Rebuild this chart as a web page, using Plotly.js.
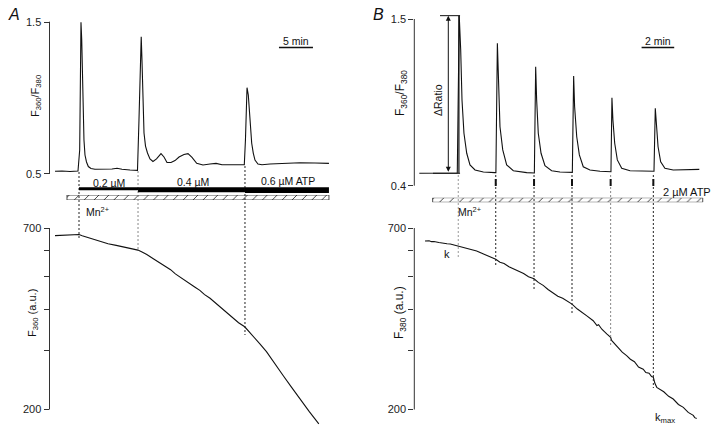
<!DOCTYPE html>
<html><head><meta charset="utf-8">
<script src="https://cdn.plot.ly/plotly-3.0.1.min.js"></script>
<style>html,body{margin:0;padding:0;background:#fff}#chart{width:720px;height:439px}</style>
</head><body><div id="chart"></div>
<script>
// ---------------- DATA ----------------
// Panel A, top: F360/F380 ratio vs time (min)
const timeA = [0, 1.03, 2.21, 3.38, 3.63, 3.75, 3.82, 3.93, 4.04, 4.16, 4.26, 4.41, 4.63, 4.90, 5.29, 5.88, 7.35, 8.38, 9.12, 9.85, 11.03, 12.13, 12.35, 12.54, 12.68, 12.79, 12.91, 13.09, 13.31, 13.60, 13.97, 14.41, 14.93, 15.59, 16.03, 16.47, 17.06, 17.65, 18.24, 18.97, 19.56, 20.15, 20.84, 21.76, 22.79, 23.68, 24.56, 26.18, 27.84, 28.01, 28.13, 28.24, 28.43, 28.57, 28.72, 28.93, 29.16, 29.41, 29.85, 30.44, 31.62, 33.57, 36.03, 38.24, 40.29];
const ratioA = [0.518, 0.520, 0.516, 0.520, 0.658, 1.250, 1.498, 1.382, 1.118, 0.855, 0.724, 0.625, 0.579, 0.549, 0.536, 0.531, 0.530, 0.533, 0.538, 0.531, 0.526, 0.524, 0.855, 1.303, 1.403, 1.250, 0.987, 0.770, 0.684, 0.638, 0.599, 0.582, 0.599, 0.634, 0.612, 0.576, 0.576, 0.588, 0.612, 0.628, 0.634, 0.609, 0.570, 0.559, 0.566, 0.570, 0.561, 0.561, 0.561, 0.724, 0.954, 1.068, 1.020, 0.921, 0.789, 0.702, 0.638, 0.592, 0.566, 0.561, 0.566, 0.570, 0.574, 0.572, 0.570];
// Panel A, bottom: F360 (a.u.)
const timeFA = [0, 1, 1.8, 2.7, 3.53, 4.0, 4.6, 5.5, 6.6, 7.8, 9.0, 10, 11.0, 11.6, 12.2, 12.8, 13.5, 14.4, 15.4, 16.2, 17.0, 17.7, 18.4, 19.2, 20.0, 20.6, 21.3, 22.0, 22.8, 23.5, 24.3, 25.2, 26.2, 27.0, 27.9, 28.5, 29.2, 30.1, 31.1, 32.3, 33.6, 34.8, 36.0, 37.4, 38.8];
const f360 = [664, 665, 666, 667, 669, 664, 658, 647, 637, 628, 621, 615, 610, 606, 601, 593, 583, 567, 551, 538, 525, 510, 498, 485, 474, 465, 455, 442, 431, 419, 406, 391, 376, 364, 354, 343, 332, 315, 298, 276, 252, 233, 215, 197, 181];
// Panel A: ATP applications (start times, min) and Mn2+ period
const atpA = [3.53, 12.21, 27.94];
const atpAEnd = 40.29;
const atpALabels = ['0.2 µM', '0.4 µM', '0.6 µM ATP'];
const mnA = [1.76, 40.29];
const scaleA = 5; // min

// Panel B, top: F360/F380 ratio vs time (min)
const timeB = [0, 1.27, 2.33, 2.45, 2.54, 2.62, 2.74, 2.91, 3.11, 3.42, 3.93, 4.64, 4.70, 4.79, 4.85, 4.95, 5.12, 5.36, 5.77, 6.59, 7.06, 7.14, 7.20, 7.30, 7.47, 7.71, 8.12, 8.63, 9.39, 9.47, 9.53, 9.66, 9.82, 10.06, 10.47, 11.09, 11.76, 11.82, 11.88, 11.99, 12.15, 12.42, 12.93, 13.74, 14.40, 14.48, 14.54, 14.65, 14.81, 15.07, 15.58, 16.40, 17.18];
const ratioB = [0.482, 0.483, 0.484, 1.522, 1.296, 0.966, 0.746, 0.614, 0.537, 0.504, 0.490, 0.486, 0.486, 1.340, 1.076, 0.789, 0.636, 0.537, 0.499, 0.486, 0.484, 1.185, 0.966, 0.746, 0.614, 0.532, 0.499, 0.490, 0.488, 1.124, 0.921, 0.723, 0.603, 0.525, 0.504, 0.495, 0.492, 0.981, 0.834, 0.680, 0.570, 0.515, 0.499, 0.497, 0.495, 0.911, 0.789, 0.657, 0.558, 0.515, 0.504, 0.504, 0.508];
// Panel B, bottom: F380 (a.u.)
const timeFB = [0.35, 0.6, 0.75, 0.9, 1.2, 1.47, 1.7, 1.9, 2.15, 2.39, 2.65, 2.9, 3.2, 3.52, 3.8, 4.1, 4.4, 4.69, 4.95, 5.2, 5.5, 5.77, 6.1, 6.4, 6.7, 7.04, 7.3, 7.6, 7.9, 8.22, 8.5, 8.8, 9.1, 9.37, 9.7, 10.0, 10.3, 10.67, 10.9, 11.0, 11.2, 11.5, 11.74, 11.8, 12.0, 12.2, 12.45, 12.72, 12.95, 13.2, 13.45, 13.74, 13.9, 14.1, 14.25, 14.36, 14.45, 14.57, 14.8, 15.0, 15.3, 15.58, 15.9, 16.2, 16.5, 16.81, 16.9, 17.02];
const f380 = [640, 641, 637, 638, 633, 632, 628, 627, 622, 620, 613, 610, 603, 597, 589, 581, 571, 564, 553, 548, 536, 529, 518, 511, 500, 493, 481, 471, 458, 448, 437, 431, 421, 414, 400, 391, 381, 369, 357, 359, 348, 337, 329, 322, 314, 307, 297, 290, 283, 278, 268, 264, 258, 257, 251, 250, 240, 233, 229, 226, 219, 215, 207, 203, 196, 192, 189, 188];
// Panel B: ATP pulses (2 µM) and Mn2+ period
const atpB = [2.39, 4.69, 7.04, 9.37, 11.74, 14.36];
const atpBLabel = '2 µM ATP';
const mnB = [0.82, 17.39];
const scaleB = 2; // min

// Tick labels
const ratioTicksA = [0.5, 1.5];
const ratioTicksB = [0.4, 1.5];
const fluoTicks = [200, 300, 400, 500, 600, 700];
const fluoTickText = ['200', '', '', '', '', '700'];

// ---------------- LAYOUT HELPERS ----------------
const W = 720, H = 439;
const px = x => x / W;
const py = y => 1 - y / H;
const FONT = 'Liberation Sans, Arial, Helvetica, sans-serif';
const INK = '#111';
const AX = '#333';

const lineStyle = {color: INK, width: 1.1};
const traces = [
  {x: timeA, y: ratioA, xaxis: 'x', yaxis: 'y', mode: 'lines', line: lineStyle},
  {x: timeFA, y: f360, xaxis: 'x2', yaxis: 'y2', mode: 'lines', line: lineStyle},
  {x: timeB, y: ratioB, xaxis: 'x3', yaxis: 'y3', mode: 'lines', line: lineStyle},
  {x: timeFB, y: f380, xaxis: 'x4', yaxis: 'y4', mode: 'lines', line: lineStyle},
];
const hatch = {color: '#fff', line: {color: '#222', width: 0.8},
  pattern: {shape: '/', fgcolor: '#222', bgcolor: '#fff', size: 7, solidity: 0.12}};
traces.push({type: 'bar', orientation: 'h', y: [0], x: [mnA[1] - mnA[0]], base: [mnA[0]], width: [1],
  xaxis: 'x5', yaxis: 'y5', marker: hatch, cliponaxis: false});
traces.push({type: 'bar', orientation: 'h', y: [0], x: [mnB[1] - mnB[0]], base: [mnB[0]], width: [1],
  xaxis: 'x6', yaxis: 'y6', marker: hatch, cliponaxis: false});

// geometry (pixel mapping of time axes)
const domA = [px(49.5), px(335)], rangeA = [-0.81, 41.18];
const domB = [px(414.3), px(705)], rangeB = [-0.307, 17.53];
const hidX = (dom, rng, anchor) => ({domain: dom, range: rng, anchor: anchor, visible: false, fixedrange: true});
const yAx = (dom, rng, anchor, vals, text, type) => ({
  domain: dom, range: rng, anchor: anchor, type: type || 'linear',
  tickmode: 'array', tickvals: vals, ticktext: text,
  ticks: 'outside', ticklen: 5, tickwidth: 1, tickcolor: AX,
  showline: false, showgrid: false, zeroline: false, fixedrange: true,
  tickfont: {family: FONT, size: 11, color: '#222'}
});

const shapes = [];
const vline = (xref, x, y0, y1, color, w, dash) => shapes.push({type: 'line', xref: xref, yref: 'paper',
  x0: x, x1: x, y0: py(y0), y1: py(y1), line: {color: color, width: w, dash: dash || 'solid'}});
// axis lines
const axLine = (x, y0, y1) => shapes.push({type: 'line', xref: 'paper', yref: 'paper', x0: px(x), x1: px(x),
  y0: py(y0), y1: py(y1), line: {color: AX, width: 1}});
axLine(49.5, 21.7, 174); axLine(49.5, 228, 409.5);
axLine(414.3, 19, 185.7); axLine(414.3, 228, 409.5);

// dashed lines A
const dashA = [[172, 238, '#222'], [171, 250, '#888'], [166, 335, '#222']];
atpA.forEach((t, i) => vline('x', t, dashA[i][0], dashA[i][1], dashA[i][2], 1, '2px,2px'));
// dashed lines B
const dashB = [[175, 258, '#999'], [175, 266, '#222'], [175, 290, '#222'], [175, 313, '#222'], [175, 347, '#888'], [175, 388, '#222']];
atpB.forEach((t, i) => vline('x3', t, dashB[i][0], dashB[i][1], dashB[i][2], 1, '2px,2px'));
atpB.slice(1).forEach(t => vline('x3', t, 179, 186, '#111', 2));

// ATP concentration bars (A)
const barBottoms = [190.3, 192.3, 193];
atpA.forEach((t, i) => shapes.push({type: 'rect', xref: 'x', yref: 'paper',
  x0: t, x1: (i < atpA.length - 1 ? atpA[i + 1] : atpAEnd), y0: py(barBottoms[i]), y1: py(187.3),
  fillcolor: '#000', line: {width: 0}}));

// scale bars
const sbA0 = 32.94, sbB0 = 13.64;
shapes.push({type: 'line', xref: 'x', yref: 'paper', x0: sbA0, x1: sbA0 + scaleA, y0: py(47.5), y1: py(47.5), line: {color: INK, width: 1.5}});
shapes.push({type: 'line', xref: 'x3', yref: 'paper', x0: sbB0, x1: sbB0 + scaleB, y0: py(47.5), y1: py(47.5), line: {color: INK, width: 1.5}});

// Delta-ratio bracket (B)
const peakB = Math.max(...ratioB), baseB = ratioB[0];
shapes.push({type: 'line', xref: 'x3', yref: 'y3', x0: 1.27, x1: 2.50, y0: peakB, y1: peakB, line: {color: INK, width: 1}});
shapes.push({type: 'line', xref: 'x3', yref: 'y3', x0: 0.84, x1: 2.50, y0: baseB, y1: baseB, line: {color: INK, width: 1}});
shapes.push({type: 'line', xref: 'x3', yref: 'y3', x0: 2.43, x1: 2.43, y0: baseB, y1: peakB, line: {color: INK, width: 1.2}});

const ann = (x, y, text, opt) => Object.assign({xref: 'paper', yref: 'paper', x: px(x), y: py(y), text: text,
  showarrow: false, xanchor: 'center', yanchor: 'middle', font: {family: FONT, size: 11, color: INK}}, opt || {});
const annotations = [
  ann(14, 15, '<i>A</i>', {font: {family: FONT, size: 16, color: INK}}),
  ann(378, 15, '<i>B</i>', {font: {family: FONT, size: 16, color: INK}}),
  ann(36, 96, 'F<sub>360</sub>/F<sub>380</sub>', {textangle: -90}),
  ann(33, 313, 'F<sub>360</sub> (a.u.)', {textangle: -90}),
  ann(401, 93, 'F<sub>360</sub>/F<sub>380</sub>', {textangle: -90, font: {family: FONT, size: 12, color: INK}}),
  ann(400, 313, 'F<sub>380</sub> (a.u.)', {textangle: -90, font: {family: FONT, size: 12, color: INK}}),
  ann(438, 100, 'ΔRatio', {textangle: -90, font: {family: FONT, size: 10.5, color: INK}}),
  ann(296, 41, scaleA + ' min', {font: {family: FONT, size: 10.5, color: INK}}),
  ann(658, 41, scaleB + ' min', {font: {family: FONT, size: 10.5, color: INK}}),
  ann(109.5, 182.5, atpALabels[0], {font: {family: FONT, size: 10.5, color: INK}}),
  ann(192.5, 182, atpALabels[1], {font: {family: FONT, size: 10.5, color: INK}}),
  ann(288, 180.5, atpALabels[2], {font: {family: FONT, size: 10.5, color: INK}}),
  ann(98, 212, 'Mn<sup>2+</sup>', {font: {family: FONT, size: 10.5, color: INK}}),
  ann(469, 212, 'Mn<sup>2+</sup>', {font: {family: FONT, size: 10.5, color: INK}}),
  ann(687, 192, atpBLabel, {font: {family: FONT, size: 11, color: INK}}),
  ann(447, 254, 'k', {font: {family: FONT, size: 11, color: INK}}),
  ann(665, 418, 'k<sub>max</sub>', {font: {family: FONT, size: 11, color: INK}}),
  {xref: 'x3', yref: 'y3', x: 1.78, y: peakB, ax: 1.78, ay: baseB, axref: 'x3', ayref: 'y3', text: '',
   showarrow: true, arrowhead: 2, arrowside: 'end+start', arrowsize: 1, arrowwidth: 1, arrowcolor: INK}
];

const layout = {
  width: W, height: H, margin: {l: 0, r: 0, t: 0, b: 0},
  paper_bgcolor: '#fff', plot_bgcolor: 'rgba(0,0,0,0)', showlegend: false, bargap: 0,
  font: {family: FONT, color: INK},
  xaxis: hidX(domA, rangeA, 'y'),
  yaxis: yAx([py(176), py(20)], [0.4868, 1.5132], 'x', ratioTicksA, ratioTicksA.map(v => v.toFixed(1))),
  xaxis2: hidX(domA, rangeA, 'y2'),
  yaxis2: yAx([py(432), py(222)], [2.2335, 2.8631], 'x2', fluoTicks, fluoTickText, 'log'),
  xaxis3: hidX(domB, rangeB, 'y3'),
  yaxis3: yAx([py(190), py(12)], [0.3716, 1.5462], 'x3', ratioTicksB, ratioTicksB.map(v => v.toFixed(1))),
  xaxis4: hidX(domB, rangeB, 'y4'),
  yaxis4: yAx([py(432), py(222)], [2.2335, 2.8631], 'x4', fluoTicks, fluoTickText, 'log'),
  xaxis5: hidX(domA, rangeA, 'y5'),
  yaxis5: {domain: [py(200), py(195)], range: [-0.5, 0.5], anchor: 'x5', visible: false, fixedrange: true},
  xaxis6: hidX(domB, rangeB, 'y6'),
  yaxis6: {domain: [py(202.3), py(197.7)], range: [-0.5, 0.5], anchor: 'x6', visible: false, fixedrange: true},
  shapes: shapes, annotations: annotations
};
Plotly.newPlot('chart', traces, layout, {staticPlot: true, displayModeBar: false});
</script>
</body></html>
